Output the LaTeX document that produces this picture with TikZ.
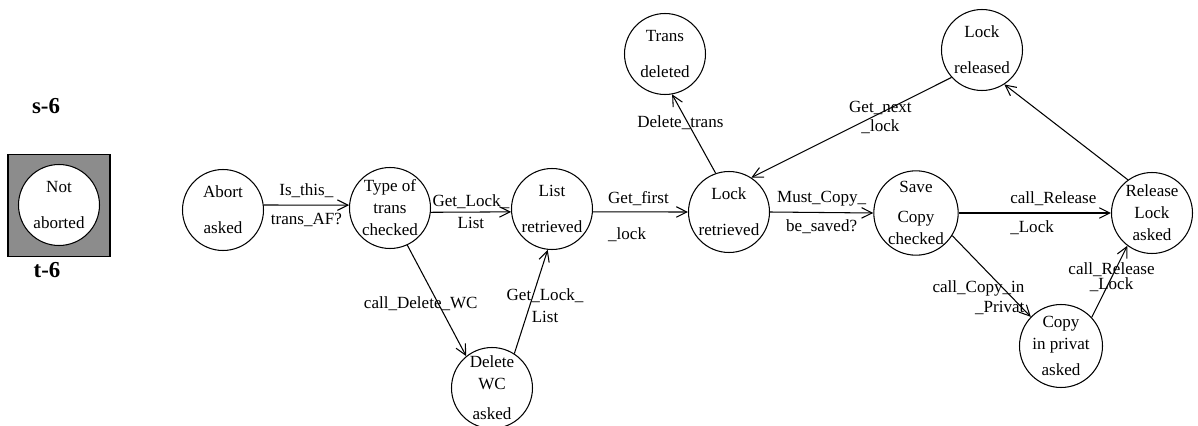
\documentclass[tikz,border=0pt]{standalone}
\usepackage{fontspec}
\setmainfont{Liberation Serif}
\usetikzlibrary{arrows.meta}
\definecolor{stategray}{RGB}{140,140,140}
\tikzset{
  stnode/.style={circle,draw,line width=0.6pt,fill=white,inner sep=0pt,
                 minimum size=1.62cm,align=center,
                 font=\fontsize{9.7}{12.5}\selectfont},
  arr/.style={-{Straight Barb[length=6pt,width=6pt]},line width=0.6pt},
  lbl/.style={font=\fontsize{9.7}{12.5}\selectfont,inner sep=0pt,align=#1},
  lbl/.default=center,
  sttag/.style={font=\fontsize{13}{15}\selectfont\bfseries},
}
\begin{document}
\begin{tikzpicture}[x=0.02cm,y=-0.02cm]
  \useasboundingbox (0,0) rectangle (1198,426);

  %% marked state
  \node[draw,line width=0.6pt,fill=stategray,minimum size=2.04cm,inner sep=0pt]
    (notabbox) at (59,205.5) {};
  \node[stnode] (notab) at (59,205) {Not\\[8pt]aborted};
  \node[sttag] (s6) at (46,106) {s-6};
  \node[sttag] (t6) at (47,270) {t-6};

  %% states
  \node[stnode] (abort)  at (223,210) {Abort\\[8pt]asked};
  \node[stnode] (type)   at (390,208) {Type of\\trans\\checked};
  \node[stnode] (list)   at (552,209) {List\\[8pt]retrieved};
  \node[stnode] (delwc)  at (492,388) {Delete\\WC\\[4.5pt]asked};
  \node[stnode] (lock)   at (729,212) {Lock\\[8pt]retrieved};
  \node[stnode] (trans)  at (665,54)  {Trans\\[8pt]deleted};
  \node[stnode] (locrel) at (982,50)  {Lock\\[8pt]released};
  \node[stnode] (save)   at (916,213) {Save\\[4.5pt]Copy\\checked};
  \node[stnode] (rel)    at (1152,213) {Release\\Lock\\asked};
  \node[stnode] (copy)   at (1061,346) {Copy\\in privat\\[2.8pt]asked};

  %% transitions
  \draw[arr] (abort.7) -- node[lbl]{Is\_this\_\\[4pt]trans\_AF?} (type.176);
  \draw[arr] (type.-6) -- node[lbl]{Get\_Lock\_\\List} (list.184);
  \draw[arr] (type.-65) --
    node[lbl,xshift=-0.32cm,yshift=-0.06cm]{call\_Delete\_WC} (delwc.129);
  \draw[arr] (delwc.57) --
    node[lbl,xshift=0.28cm,yshift=-0.08cm]{Get\_Lock\_\\List} (list.264);
  \draw[arr] (list.-4) --
    node[lbl=left,xshift=-0.04cm,yshift=-0.1cm]{Get\_first\\[8pt]\_lock} (lock.west);
  \draw[arr] (lock.109) --
    node[lbl,xshift=-0.27cm,yshift=0.22cm]{Delete\_trans} (trans.-80);
  \draw[arr] (locrel.-138) --
    node[lbl,xshift=0.58cm,yshift=0.2cm]{Get\_next\\[-1.2pt]\_lock} (lock.57);
  \draw[arr] (lock.east) -- node[lbl]{Must\_Copy\_\\[4pt]be\_saved?} (save.west);
  \draw[arr] (save.east) --
    node[lbl=left,xshift=0.37cm]{call\_Release\\[4pt]\_Lock} (rel.west);
  \draw[arr] (save.-32) --
    node[lbl=right,xshift=-0.26cm,yshift=-0.43cm]{call\_Copy\_in\\[-1.2pt]\_Privat} (copy.136);
  \draw[arr] (copy.43) --
    node[lbl,xshift=0.04cm,yshift=0.08cm]{call\_Release\\[-3.9pt]\_Lock} (rel.233);
  \draw[arr] (rel.126) -- (locrel.-57);

\end{tikzpicture}
\end{document}
